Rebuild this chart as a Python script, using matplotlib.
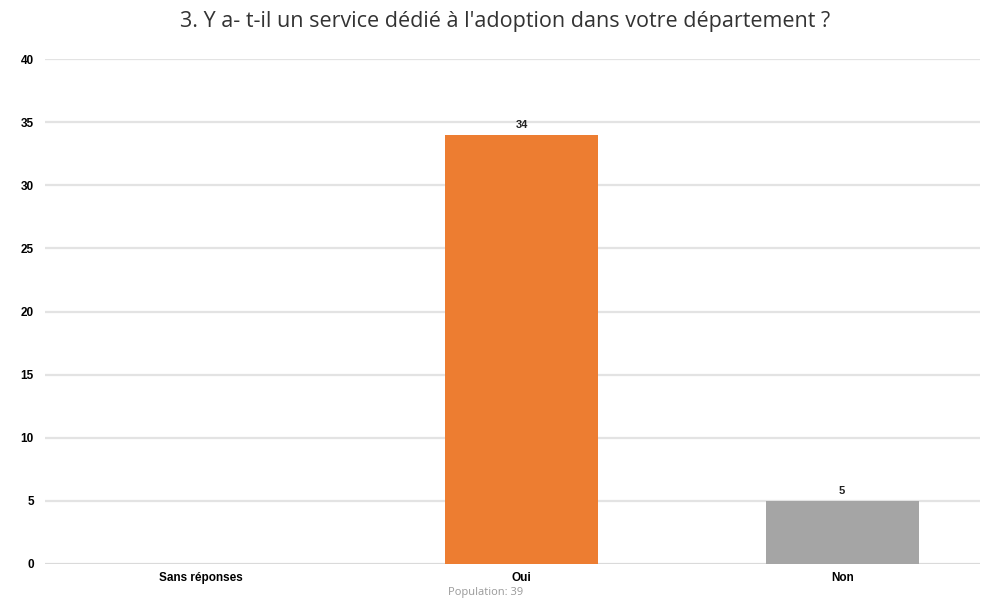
import matplotlib
matplotlib.use('Agg')
import matplotlib.pyplot as plt

categories = ['Sans réponses', 'Oui', 'Non']
counts = [0, 34, 5]
colors = ['#4472C4', '#ED7D31', '#A5A5A5']
y_ticks = [0, 5, 10, 15, 20, 25, 30, 35, 40]
title = "3. Y a- t-il un service dédié à l'adoption dans votre département ?"
population = 'Population: 39'

fig = plt.figure(figsize=(9.91, 6.03), dpi=100)
ax = fig.add_axes([0.0454, 0.0647, 0.9436, 0.8374])

x = range(len(categories))
bars = ax.bar(x, counts, width=0.477, color=colors, zorder=3)

# étiquettes de valeur au-dessus des barres non nulles
for xi, v in zip(x, counts):
    if v > 0:
        ax.text(xi, v + 0.4, str(v), ha='center', va='bottom',
                fontsize=8, fontweight='bold', family='Liberation Sans', color='#222222')

ax.set_ylim(0, 40)
ax.set_xlim(-0.486, 2.43)
ax.set_yticks(y_ticks)
ax.set_xticks(list(x))
ax.set_xticklabels(categories, fontsize=8.5, fontweight='bold', family='Liberation Sans')
for lab in ax.get_yticklabels():
    lab.set_fontsize(8.5)
    lab.set_fontweight('bold')
    lab.set_family('Liberation Sans')
ax.tick_params(length=0, pad=6)
ax.tick_params(axis='y', pad=8)

ax.grid(axis='y', color='#e3e3e3', linewidth=1.6, zorder=0)
for s in ax.spines.values():
    s.set_visible(False)
ax.axhline(0, color='#d8d8d8', linewidth=1.8, zorder=2)

fig.text(0.51, 0.965, title, ha='center', va='center', fontsize=15.5,
         family=['Liberation Sans Narrow', 'Open Sans'], color='#333333')
fig.text(0.49, 0.018, population, ha='center', va='center', fontsize=8,
         family='Open Sans', color='#999999')

fig.savefig('out.png', dpi=100, facecolor='white')
